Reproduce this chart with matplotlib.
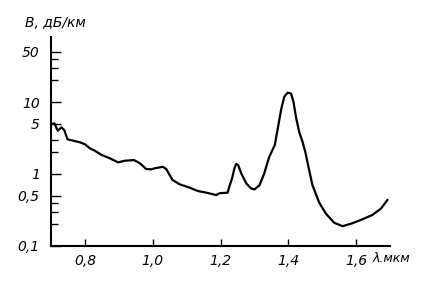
import numpy as np
import matplotlib.pyplot as plt
from matplotlib.ticker import FixedLocator, NullFormatter

# attenuation spectrum of the fibre
wavelength = [0.702, 0.710, 0.720, 0.731, 0.739, 0.749, 0.766, 0.785, 0.800, 0.815,
              0.829, 0.849, 0.874, 0.898, 0.918, 0.945, 0.962, 0.981, 0.996, 1.006,
              1.030, 1.040, 1.058, 1.079, 1.109, 1.133, 1.158, 1.187, 1.197, 1.221,
              1.226, 1.234, 1.241, 1.246, 1.252, 1.261, 1.276, 1.290, 1.300, 1.315,
              1.329, 1.339, 1.344, 1.353, 1.360, 1.369, 1.379, 1.388, 1.398, 1.408,
              1.415, 1.423, 1.432, 1.442, 1.450, 1.457, 1.471, 1.491, 1.511, 1.535,
              1.560, 1.589, 1.619, 1.648, 1.673, 1.692]
loss = [4.95, 5.06, 3.99, 4.45, 4.08, 3.03, 2.90, 2.76, 2.59, 2.27,
        2.11, 1.84, 1.65, 1.45, 1.53, 1.56, 1.41, 1.17, 1.16, 1.20,
        1.26, 1.17, 0.83, 0.72, 0.645, 0.58, 0.55, 0.51, 0.54, 0.55,
        0.67, 0.87, 1.20, 1.38, 1.33, 1.02, 0.74, 0.63, 0.61, 0.70,
        1.02, 1.48, 1.74, 2.15, 2.53, 4.35, 8.0, 11.9, 13.5, 13.1,
        10.1, 6.0, 3.83, 2.78, 2.02, 1.41, 0.70, 0.40, 0.28, 0.21,
        0.188, 0.207, 0.235, 0.27, 0.33, 0.435]

x_ticks = [0.8, 1.0, 1.2, 1.4, 1.6]
x_labels = ['0,8', '1,0', '1,2', '1,4', '1,6']
y_ticks = [0.1, 0.5, 1, 5, 10, 50]
y_labels = ['0,1', '0,5', '1', '5', '10', '50']
y_minor = [0.2, 0.3, 0.4, 2, 3, 20, 30, 40]

fig = plt.figure(figsize=(4.32, 2.83), dpi=100)
ax = fig.add_axes([0.118, 0.131, 0.785, 0.738])

ax.plot(wavelength, loss, color='black', lw=1.6, solid_joinstyle='round')

ax.set_yscale('log')
ax.set_xlim(0.7, 1.70)
ax.set_ylim(0.1, 80)

ax.spines['top'].set_visible(False)
ax.spines['right'].set_visible(False)
ax.spines['left'].set_linewidth(1.5)
ax.spines['bottom'].set_linewidth(1.5)

ax.set_xticks(x_ticks)
ax.set_xticklabels(x_labels, style='italic', fontsize=10)
ax.yaxis.set_major_locator(FixedLocator(y_ticks))
ax.yaxis.set_minor_locator(FixedLocator(y_minor))
ax.set_yticklabels(y_labels, style='italic', fontsize=10)
ax.yaxis.set_minor_formatter(NullFormatter())

ax.tick_params(axis='x', direction='in', length=5, width=1.0, pad=6)
ax.tick_params(axis='y', which='major', direction='in', length=7, width=1.0, pad=8)
ax.tick_params(axis='y', which='minor', direction='in', length=5, width=1.0)

fig.text(0.058, 0.919, 'В, дБ/км', style='italic', fontsize=10, va='center')
fig.text(373 / 432, 0.085, 'λ.мкм', style='italic', fontsize=9, va='center')

fig.savefig('out.png', dpi=100)
